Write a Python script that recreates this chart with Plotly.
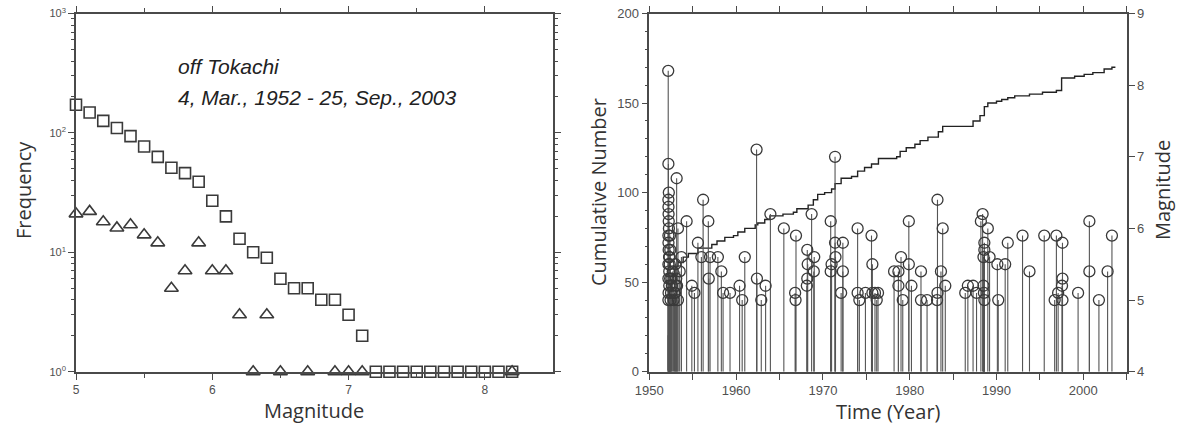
import plotly.graph_objects as go

# ---------------- data: left panel (frequency-magnitude) ----------------
mag_bins = [5.0, 5.1, 5.2, 5.3, 5.4, 5.5, 5.6, 5.7, 5.8, 5.9, 6.0, 6.1, 6.2, 6.3, 6.4,
            6.5, 6.6, 6.7, 6.8, 6.9, 7.0, 7.1, 7.2, 7.3, 7.4, 7.5, 7.6, 7.7, 7.8, 7.9,
            8.0, 8.1, 8.2]
cum_freq = [172, 148, 126, 110, 94, 77, 63, 51, 46, 39, 27, 20, 13, 10, 9,
            6, 5, 5, 4, 4, 3, 2, 1, 1, 1, 1, 1, 1, 1, 1,
            1, 1, 1]
tri_mags = [5.0, 5.1, 5.2, 5.3, 5.4, 5.5, 5.6, 5.7, 5.8, 5.9, 6.0, 6.1, 6.2, 6.3, 6.4,
            6.5, 6.7, 6.9, 7.0, 7.1, 8.2]
tri_freq = [21, 22, 18, 16, 17, 14, 12, 5, 7, 12, 7, 7, 3, 1, 3,
            1, 1, 1, 1, 1, 1]

# ---------------- data: right panel (events + cumulative number) ----------------
event_years = [
    1952.18, 1952.20, 1952.25, 1952.20, 1952.21, 1952.22, 1952.24, 1952.26, 1952.20, 1952.21,
    1952.23, 1952.28, 1952.20, 1952.30, 1952.20, 1952.30, 1952.22, 1952.20, 1952.35, 1952.40,
    1952.45, 1952.50, 1952.60, 1952.70, 1952.80, 1952.90, 1952.33, 1952.38, 1952.42, 1952.55,
    1953.15, 1953.30, 1953.70, 1953.00, 1953.10, 1953.20, 1953.30, 1953.50, 1952.95, 1953.05,
    1954.30, 1954.90, 1955.20, 1955.60, 1956.00, 1956.20, 1956.80, 1956.85, 1957.00, 1957.90,
    1958.30, 1958.50, 1959.30, 1960.40, 1960.70, 1961.00, 1962.36, 1962.40, 1962.90, 1963.40,
    1963.95, 1965.50, 1966.90, 1966.80, 1966.85, 1968.20, 1968.25, 1968.20, 1968.15, 1968.70,
    1969.00, 1968.95, 1970.90, 1971.00, 1970.90, 1971.40, 1971.40, 1971.45, 1972.30, 1972.30,
    1972.10, 1974.00, 1974.00, 1974.20, 1974.90, 1975.60, 1975.70, 1975.70, 1976.00, 1976.20,
    1976.35, 1978.20, 1978.70, 1979.00, 1978.70, 1979.20, 1979.90, 1979.90, 1980.20, 1981.30,
    1981.30, 1982.00, 1983.20, 1983.20, 1983.15, 1983.80, 1983.60, 1984.10, 1986.40, 1986.70,
    1987.30, 1987.70, 1988.40, 1988.20, 1989.00, 1988.60, 1988.60, 1988.50, 1989.20, 1988.50,
    1988.60, 1988.55, 1990.10, 1990.20, 1991.00, 1991.30, 1993.00, 1993.80, 1995.50, 1996.90,
    1997.60, 1997.60, 1997.55, 1997.10, 1996.70, 1997.60, 1999.40, 2000.70, 2000.70, 2001.80,
    2002.80, 2003.30,
]
event_mags = [
    8.2, 6.9, 6.5, 6.4, 6.3, 6.2, 6.1, 6.0, 5.9, 5.8,
    5.7, 5.6, 5.5, 5.4, 5.3, 5.2, 5.1, 5.0, 5.5, 5.3,
    5.0, 5.1, 5.2, 5.4, 5.0, 5.1, 5.6, 5.9, 5.7, 5.3,
    6.7, 6.0, 5.6, 5.5, 5.3, 5.2, 5.0, 5.4, 5.1, 5.2,
    6.1, 5.2, 5.1, 5.8, 5.6, 6.4, 6.1, 5.3, 5.6, 5.6,
    5.4, 5.1, 5.1, 5.2, 5.0, 5.6, 7.1, 5.3, 5.0, 5.2,
    6.2, 6.0, 5.9, 5.1, 5.0, 5.7, 5.5, 5.3, 5.2, 6.2,
    5.6, 5.4, 6.1, 5.5, 5.4, 7.0, 5.8, 5.6, 5.8, 5.4,
    5.1, 6.0, 5.1, 5.0, 5.1, 5.9, 5.5, 5.1, 5.1, 5.0,
    5.1, 5.4, 5.4, 5.6, 5.2, 5.0, 6.1, 5.5, 5.2, 5.4,
    5.0, 5.0, 6.4, 5.1, 5.0, 6.0, 5.4, 5.2, 5.1, 5.2,
    5.2, 5.1, 6.2, 6.1, 6.0, 5.8, 5.7, 5.6, 5.6, 5.2,
    5.0, 5.1, 5.5, 5.0, 5.5, 5.8, 5.9, 5.4, 5.9, 5.9,
    5.8, 5.3, 5.2, 5.1, 5.0, 5.0, 5.1, 6.1, 5.4, 5.0,
    5.4, 5.9,
]
cum_years = [1952.18, 1952.19, 1952.25, 1952.35, 1952.5, 1952.7, 1952.9, 1953.1, 1953.3,
             1953.9, 1954.5, 1955.6, 1957.2, 1957.8, 1958.7, 1959.7, 1960.2, 1961.0,
             1962.2, 1962.5, 1963.3, 1963.9, 1964.5, 1965.4, 1966.6, 1967.0, 1968.3,
             1968.9, 1969.4, 1970.2, 1971.0, 1971.4, 1972.1, 1973.3, 1974.0, 1974.8,
             1975.6, 1976.4, 1978.5, 1978.9, 1979.6, 1980.6, 1981.2, 1982.1, 1983.3,
             1983.8, 1987.3, 1988.1, 1988.6, 1989.0, 1990.0, 1990.6, 1991.3, 1992.1,
             1993.8, 1995.3, 1996.9, 1997.5, 1999.0, 2000.1, 2001.1, 2002.4, 2003.3,
             2003.7]
cum_counts = [1, 20, 35, 45, 50, 54, 57, 59, 61,
              64, 66, 69, 71, 73, 75, 76, 78, 80,
              82, 83, 85, 87, 87, 88, 89, 91, 93,
              96, 99, 100, 102, 105, 108, 109, 112, 114,
              116, 119, 120, 123, 125, 127, 129, 131, 134,
              137, 140, 143, 148, 150, 151, 152, 153, 154,
              155, 156, 157, 164, 165, 166, 167, 169, 170,
              170]

left_xticks = [5, 6, 7, 8]
left_yticks = [1, 10, 100, 1000]
left_yticktext = ["10<sup>0</sup>", "10<sup>1</sup>", "10<sup>2</sup>", "10<sup>3</sup>"]

# ---------------- styling ----------------
INK = "#3a3a3a"
AX = "#4a4a4a"
TICKC = "#505050"
FONT = "Liberation Sans, Arial, sans-serif"
TFONT = "Open Sans, Liberation Sans, sans-serif"
W, H = 1181, 439


def px(x):
    return x / W


def py(y):
    return 1 - y / H


fig = go.Figure()

# Left panel
fig.add_trace(go.Scatter(
    x=mag_bins, y=cum_freq, mode="markers", xaxis="x", yaxis="y",
    marker=dict(symbol="square-open", size=11, color=INK, line=dict(width=1.6, color=INK)),
    showlegend=False, cliponaxis=False))
fig.add_trace(go.Scatter(
    x=tri_mags, y=tri_freq, mode="markers", xaxis="x", yaxis="y",
    marker=dict(symbol="triangle-up-open", size=12, color=INK, line=dict(width=1.6, color=INK)),
    showlegend=False, cliponaxis=False))

# Right panel: stems
stem_x, stem_y = [], []
for t, m in zip(event_years, event_mags):
    stem_x += [t, t, None]
    stem_y += [4, m, None]
fig.add_trace(go.Scatter(
    x=stem_x, y=stem_y, mode="lines", xaxis="x2", yaxis="y3",
    line=dict(color="#555555", width=1.1), showlegend=False, hoverinfo="skip"))
fig.add_trace(go.Scatter(
    x=event_years, y=event_mags, mode="markers", xaxis="x2", yaxis="y3",
    marker=dict(symbol="circle-open", size=11, color=INK, line=dict(width=1.3, color=INK)),
    showlegend=False))
fig.add_trace(go.Scatter(
    x=cum_years, y=cum_counts, mode="lines", xaxis="x2", yaxis="y2",
    line=dict(color="#222222", width=1.4, shape="hv"), showlegend=False))

L = (px(76), px(553))
R = (px(649.3), px(1126.7))
YD = (py(371.7), py(13.5))

common = dict(showline=True, linecolor=AX, linewidth=1.6, ticks="outside",
              tickcolor=AX, tickwidth=1.2, ticklen=6, showgrid=False, zeroline=False,
              automargin=False, ticklabeloverflow="allow",
              tickfont=dict(family=FONT, size=12, color=TICKC))

fig.update_layout(
    template="none",
    width=W, height=H,
    margin=dict(l=0, r=0, t=0, b=0, autoexpand=False),
    paper_bgcolor="white", plot_bgcolor="white",
    showlegend=False,
    xaxis=dict(domain=L, anchor="y", range=[5, 8.5], tickvals=left_xticks,
               mirror="allticks",
               minor=dict(tickvals=[5.5, 6.5, 7.5], ticks="outside", ticklen=4,
                          tickcolor=AX, tickwidth=1),
               **common),
    yaxis=dict(domain=YD, anchor="x", type="log", range=[0, 3],
               tickvals=left_yticks, ticktext=left_yticktext, mirror="allticks",
               minor=dict(tickvals=[2, 3, 4, 5, 6, 7, 8, 9, 20, 30, 40, 50, 60, 70, 80, 90,
                                    200, 300, 400, 500, 600, 700, 800, 900],
                          ticks="outside", ticklen=3, tickcolor=AX, tickwidth=1),
               **{**common, "tickfont": dict(family=FONT, size=11, color=TICKC)}),
    xaxis2=dict(domain=R, anchor="y2", range=[1950, 2005], dtick=10, tick0=1950,
                mirror="allticks",
                minor=dict(dtick=5, ticks="outside", ticklen=4, tickcolor=AX, tickwidth=1),
                **{**common, "tickfont": dict(family=FONT, size=13, color=TICKC)}),
    yaxis2=dict(domain=YD, anchor="x2", range=[0, 200], dtick=50,
                minor=dict(dtick=10, ticks="outside", ticklen=3, tickcolor=AX, tickwidth=1),
                **{**common, "tickfont": dict(family=FONT, size=13, color=TICKC)}),
    yaxis3=dict(anchor="x2", overlaying="y2", side="right", range=[4, 9], dtick=1,
                **{**common, "tickfont": dict(family=FONT, size=13, color=TICKC)}),
)

ann_font = dict(family=TFONT, size=20, color="#333333")
anns = [
    dict(text="Frequency", x=px(23), y=py(190), textangle=-90),
    dict(text="Magnitude", x=px(314), y=py(410), textangle=0),
    dict(text="Cumulative Number", x=px(598), y=py(192), textangle=-90),
    dict(text="Time (Year)", x=px(888), y=py(411), textangle=0),
    dict(text="Magnitude", x=px(1162), y=py(190), textangle=-90),
]
for a in anns:
    fig.add_annotation(xref="paper", yref="paper", showarrow=False,
                       xanchor="center", yanchor="middle", font=ann_font, **a)

fig.add_annotation(xref="paper", yref="paper", x=px(176), y=py(67),
                   xanchor="left", yanchor="middle", showarrow=False,
                   text="<i>off Tokachi</i>",
                   font=dict(family=FONT, size=21, color="#222222"))
fig.add_annotation(xref="paper", yref="paper", x=px(176), y=py(97),
                   xanchor="left", yanchor="middle", showarrow=False,
                   text="<i>4, Mar., 1952 - 25, Sep., 2003</i>",
                   font=dict(family=FONT, size=21, color="#222222"))

fig.write_html("out.html",
               config={"displayModeBar": False},
               post_script="document.body.style.margin='0';"
                           "document.body.style.overflow='hidden';")
